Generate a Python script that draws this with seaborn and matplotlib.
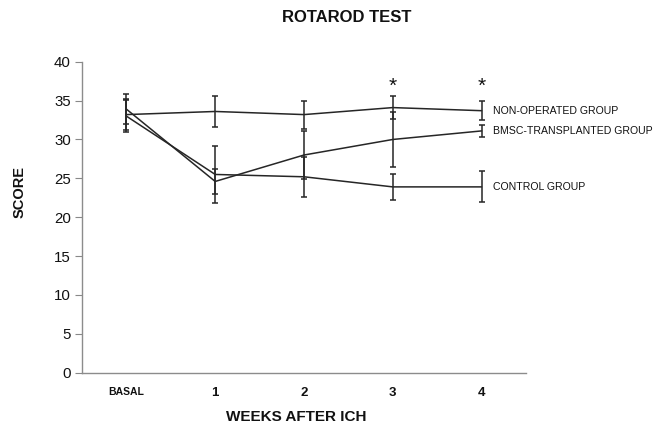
import pandas as pd
import matplotlib.pyplot as plt
import matplotlib.transforms as mtransforms
import numpy as np
import seaborn as sns

# ---------------------------------------------------------
# Data
# ---------------------------------------------------------

weeks = ["BASAL", "1", "2", "3", "4"]
groups = ["NON-OPERATED GROUP", "BMSC-TRANSPLANTED GROUP", "CONTROL GROUP"]

non_operated = [33.2, 33.6, 33.2, 34.1, 33.7]
non_operated_err = [2.0, 2.0, 1.8, 1.5, 1.2]

bmsc = [33.9, 24.6, 28.0, 30.0, 31.1]
bmsc_err = [1.9, 1.6, 3.1, 3.5, 0.8]

control = [33.0, 25.5, 25.2, 23.9, 23.9]
control_err = [2.1, 3.7, 2.6, 1.7, 2.0]

significant_weeks = ["3", "4"]
star_level = 36.8

# ---------------------------------------------------------
# Long table for seaborn
# ---------------------------------------------------------

rows = []
for name, vals, errs in zip(groups,
                            [non_operated, bmsc, control],
                            [non_operated_err, bmsc_err, control_err]):
    for i, (w, v, e) in enumerate(zip(weeks, vals, errs)):
        rows.append({"group": name, "week": w, "pos": i, "score": v, "err": e})
df = pd.DataFrame(rows)

# ---------------------------------------------------------
# Plot
# ---------------------------------------------------------

sns.set_style("white")
plt.rcParams["font.family"] = ["Liberation Sans", "DejaVu Sans"]

fig = plt.figure(figsize=(6.65, 4.25), dpi=100)
ax = fig.add_axes([0.1233, 0.123, 0.791 - 0.1233, 0.8548 - 0.123])

line_color = "#262626"
sns.lineplot(data=df, x="pos", y="score", hue="group", hue_order=groups,
             palette=[line_color] * 3, linewidth=1.1, legend=False, ax=ax)

for name in groups:
    sub = df[df["group"] == name]
    ax.errorbar(sub["pos"], sub["score"], yerr=sub["err"], fmt="none",
                ecolor=line_color, elinewidth=1.1, capsize=2.5, capthick=1.1)

# group labels at the right end of each line
for name in groups:
    sub = df[df["group"] == name]
    last = sub.iloc[-1]
    ax.annotate(name, xy=(last["pos"], last["score"]), xytext=(8, 0),
                textcoords="offset points", va="center", ha="left",
                fontsize=7.6, color="#111111", annotation_clip=False)

# significance stars
for w in significant_weeks:
    ax.text(weeks.index(w), star_level, "*", ha="center", va="center",
            fontsize=15, color="#111111")

ax.set_xlim(-0.5, 4.5)
ax.set_ylim(0, 40)
ax.set_yticks(np.arange(0, 41, 5))
ax.set_xticks(range(len(weeks)))
ax.set_xticklabels(weeks)
for lbl in ax.get_xticklabels():
    lbl.set_fontweight("bold")
    lbl.set_fontsize(7.5 if lbl.get_text() == "BASAL" else 9.5)
    lbl.set_transform(lbl.get_transform() +
                      mtransforms.ScaledTranslation(-5 / 100, 0, fig.dpi_scale_trans))
ax.tick_params(axis="x", length=0, pad=10, colors="#111111")
ax.tick_params(axis="y", length=5, width=0.8, color="#888888", labelsize=10.8,
               labelcolor="#111111", pad=3, left=True, direction="out")

for side in ["top", "right"]:
    ax.spines[side].set_visible(False)
for side in ["left", "bottom"]:
    ax.spines[side].set_color("#8c8c8c")
    ax.spines[side].set_linewidth(1.0)

ax.set_xlabel("")
ax.set_ylabel("")
fig.text(347 / 665, 1 - 18 / 425, "ROTAROD TEST", ha="center", va="center",
         fontsize=12, fontweight="bold", color="#111111")
fig.text(296 / 665, 1 - 417 / 425, "WEEKS AFTER ICH", ha="center", va="center",
         fontsize=11, fontweight="bold", color="#111111")
fig.text(20 / 665, 1 - 192 / 425, "SCORE", ha="center", va="center",
         rotation=90, fontsize=10.5, fontweight="bold", color="#111111")

fig.savefig("out.png", dpi=100)
